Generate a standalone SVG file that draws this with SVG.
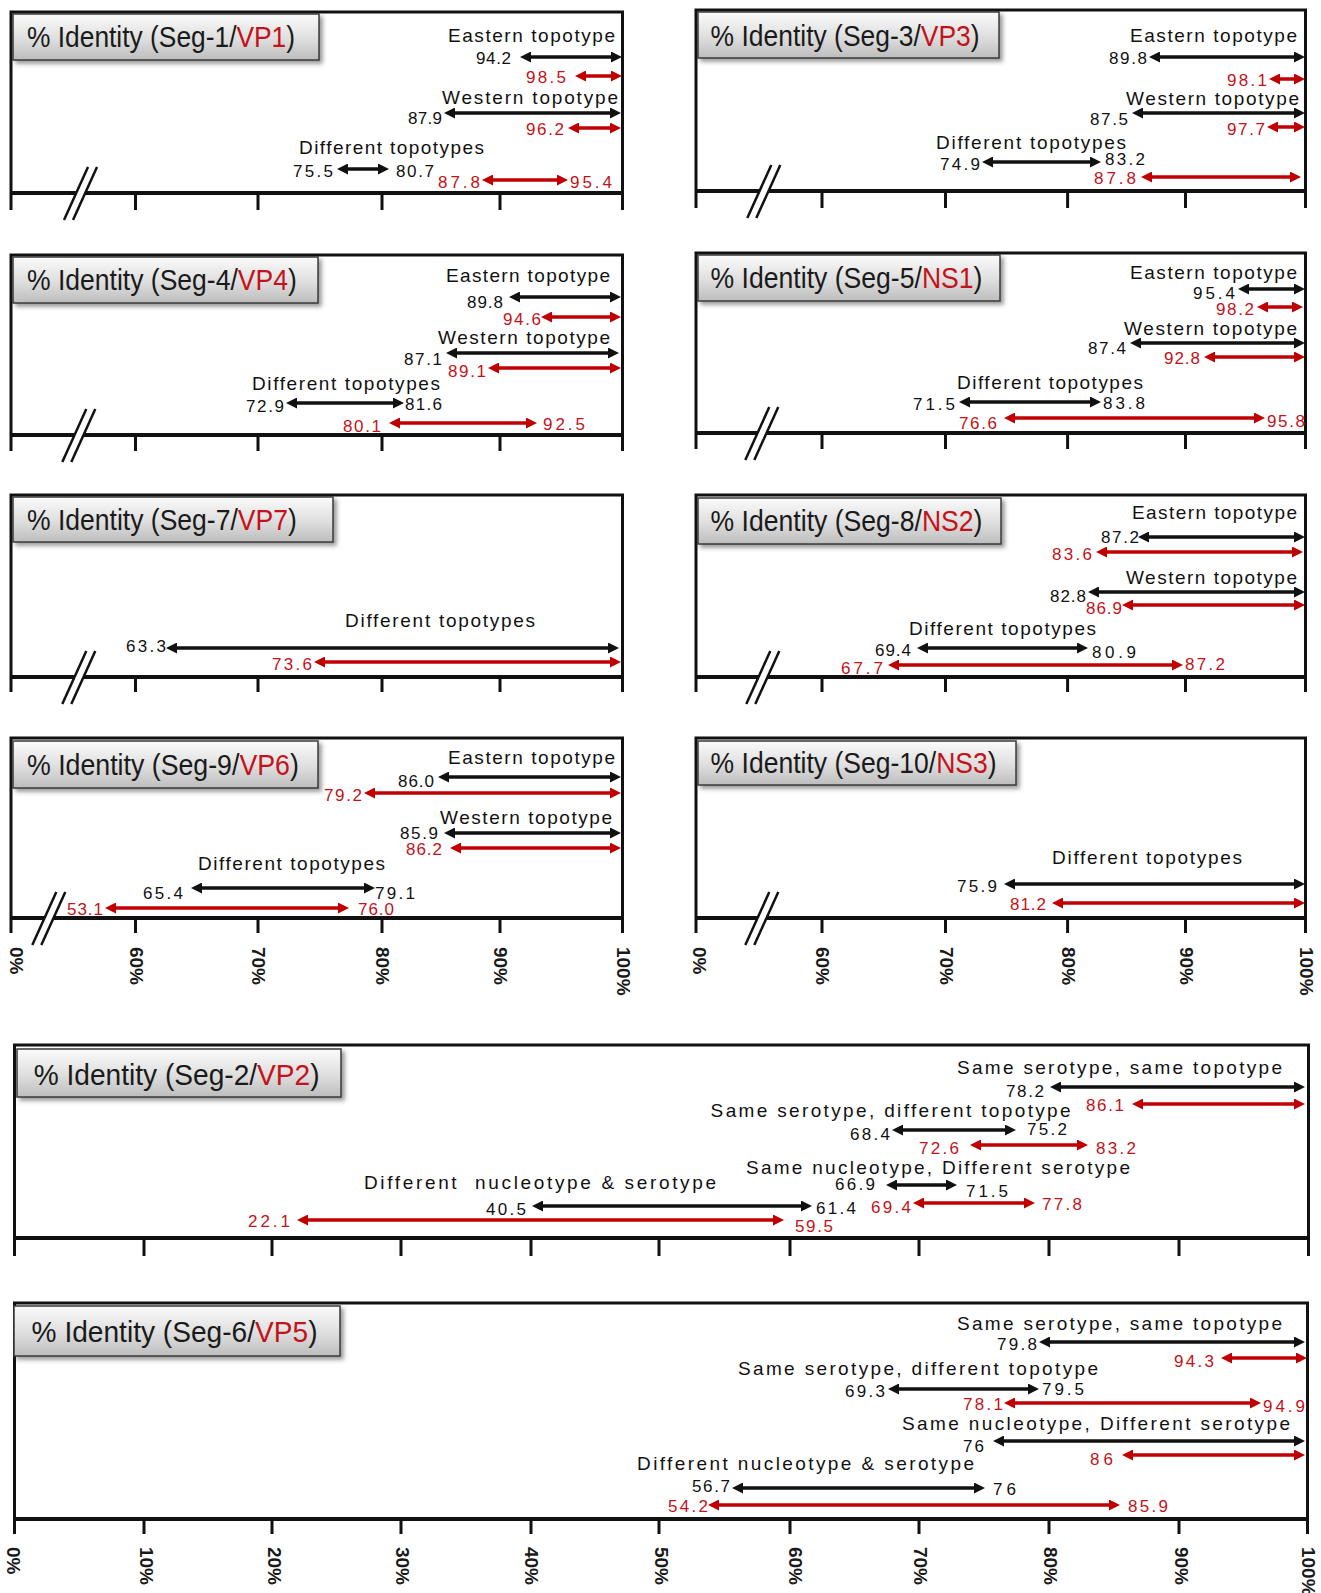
<svg xmlns="http://www.w3.org/2000/svg" xmlns:xlink="http://www.w3.org/1999/xlink" width="1321" height="1593" viewBox="0 0 1321 1593">
  <defs>
    <style>
      .fr{fill:none;stroke:#111;stroke-width:3;stroke-linejoin:miter}
      .ax{fill:none;stroke:#111;stroke-width:4}
      .tk{fill:none;stroke:#111;stroke-width:3}
      .tb{fill:url(#tbg);stroke:#3a3a3a;stroke-width:1.5;filter:url(#sh)}
      .tt{font-family:"Liberation Sans",Arial,sans-serif;font-size:29px;fill:#1a1a1a}
      .rd{fill:#c4121a}
      .lb{font-family:"Liberation Sans",Arial,sans-serif;font-size:19px;fill:#111}
      .n{font-family:"Liberation Sans",Arial,sans-serif;font-size:17px;fill:#111}
      .rn{fill:#c4121a}
      .ka{stroke:#111;stroke-width:3.5;marker-start:url(#hk);marker-end:url(#hk)}
      .ra{stroke:#c00000;stroke-width:3.5;marker-start:url(#hr);marker-end:url(#hr)}
      .pl{font-family:"Liberation Sans",Arial,sans-serif;font-size:19px;font-weight:bold;fill:#1a1a1a}
      .bk{stroke:#111;stroke-width:2.5}
    </style>
    <linearGradient id="tbg" x1="0" y1="0" x2="0" y2="1">
      <stop offset="0" stop-color="#fbfbfb"/>
      <stop offset="0.55" stop-color="#dedede"/>
      <stop offset="1" stop-color="#bdbdbd"/>
    </linearGradient>
    <filter id="sh" x="-5%" y="-10%" width="115%" height="140%">
      <feDropShadow dx="3" dy="3" stdDeviation="2" flood-color="#444" flood-opacity="0.55"/>
    </filter>
    <marker id="hk" viewBox="0 0 11 11" refX="7" refY="5.5" markerWidth="11" markerHeight="11" markerUnits="userSpaceOnUse" orient="auto-start-reverse">
      <path d="M0,0 L11,5.5 L0,11 z" fill="#111"/>
    </marker>
    <marker id="hr" viewBox="0 0 11 11" refX="7" refY="5.5" markerWidth="11" markerHeight="11" markerUnits="userSpaceOnUse" orient="auto-start-reverse">
      <path d="M0,0 L11,5.5 L0,11 z" fill="#c00000"/>
    </marker>
    <!-- axis break mark, centred on the axis line -->
    <g id="brk">
      <polygon points="-2.2,-5 6.8,-5 2.2,5 -6.8,5" fill="#fff"/>
      <line class="bk" x1="-16.7" y1="27" x2="7.3" y2="-26"/>
      <line class="bk" x1="-7.7" y1="27" x2="16.3" y2="-26"/>
    </g>
  </defs>

  <rect width="1321" height="1593" fill="#fff"/>

  <!-- Segment 1 / VP1 -->
  <g id="seg1">
    <path class="fr" d="M11,193 V12 H622.5 V193"/>
    <path class="ax" d="M11,193 H622.5"/>
    <path class="tk" d="M11,193V210 M135.5,193V210 M258,193V210 M382,193V210 M500,193V210 M622.5,193V210"/>
    <use href="#brk" x="80.7" y="193"/>
    <rect class="tb" x="13" y="14" width="306" height="46"/>
    <text class="tt" transform="translate(27 46.5) scale(0.909 1)">% Identity (Seg-1/<tspan class="rd">VP1</tspan>)</text>
    <text class="lb" x="448" y="41.5" textLength="167">Eastern topotype</text>
    <text class="n" x="476" y="64" textLength="35">94.2</text>
    <text class="n rn" x="526" y="82.5" textLength="40">98.5</text>
    <text class="lb" x="442" y="103.5" textLength="176">Western topotype</text>
    <text class="n" x="408" y="123.5" textLength="34">87.9</text>
    <text class="n rn" x="526" y="134.5" textLength="38">96.2</text>
    <text class="lb" x="299" y="153.5" textLength="185">Different topotypes</text>
    <text class="n" x="293" y="176.5" textLength="40">75.5</text>
    <text class="n" x="396" y="176.5" textLength="38">80.7</text>
    <text class="n rn" x="438" y="187.5" textLength="42">87.8</text>
    <text class="n rn" x="570" y="187.5" textLength="42">95.4</text>
    <g class="ranges">
      <line class="ka" x1="524" y1="57" x2="618" y2="57"/>
      <line class="ra" x1="579" y1="76" x2="618" y2="76"/>
      <line class="ka" x1="448" y1="113" x2="617" y2="113"/>
      <line class="ra" x1="572" y1="128" x2="617" y2="128"/>
      <line class="ka" x1="341" y1="169" x2="385" y2="169"/>
      <line class="ra" x1="486" y1="180" x2="564" y2="180"/>
    </g>
  </g>

  <!-- Segment 3 / VP3 -->
  <g id="seg3">
    <path class="fr" d="M696,191 V10 H1305.5 V191"/>
    <path class="ax" d="M696,191 H1305.5"/>
    <path class="tk" d="M696,191V208 M822,191V208 M945.5,191V208 M1067.6,191V208 M1185.5,191V208 M1305.5,191V208"/>
    <use href="#brk" x="764" y="191"/>
    <rect class="tb" x="698" y="12" width="301" height="46"/>
    <text class="tt" transform="translate(710.6 46) scale(0.912 1)">% Identity (Seg-3/<tspan class="rd">VP3</tspan>)</text>
    <text class="lb" x="1130" y="41.5" textLength="167">Eastern topotype</text>
    <text class="n" x="1109" y="64" textLength="38">89.8</text>
    <text class="n rn" x="1227" y="85.5" textLength="40">98.1</text>
    <text class="lb" x="1126" y="104.5" textLength="173">Western topotype</text>
    <text class="n" x="1090" y="124.5" textLength="38">87.5</text>
    <text class="n rn" x="1227" y="134.5" textLength="38">97.7</text>
    <text class="lb" x="936" y="149" textLength="190">Different topotypes</text>
    <text class="n" x="940" y="169.5" textLength="40">74.9</text>
    <text class="n" x="1105" y="165" textLength="40">83.2</text>
    <text class="n rn" x="1094" y="183.5" textLength="42">87.8</text>
    <g class="ranges">
      <line class="ka" x1="1153" y1="57" x2="1301" y2="57"/>
      <line class="ra" x1="1273" y1="79" x2="1301" y2="79"/>
      <line class="ka" x1="1136" y1="113" x2="1301" y2="113"/>
      <line class="ra" x1="1271" y1="127" x2="1301" y2="127"/>
      <line class="ka" x1="986" y1="162" x2="1097" y2="162"/>
      <line class="ra" x1="1145" y1="177" x2="1297" y2="177"/>
    </g>
  </g>

  <!-- Segment 4 / VP4 -->
  <g id="seg4">
    <path class="fr" d="M11,435 V255 H622.5 V435"/>
    <path class="ax" d="M11,435 H622.5"/>
    <path class="tk" d="M11,435V451 M135.5,435V451 M258,435V451 M382,435V451 M500,435V451 M622.5,435V451"/>
    <use href="#brk" x="79" y="435"/>
    <rect class="tb" x="13" y="257" width="305" height="46"/>
    <text class="tt" transform="translate(27 290) scale(0.915 1)">% Identity (Seg-4/<tspan class="rd">VP4</tspan>)</text>
    <text class="lb" x="446" y="281.5" textLength="164">Eastern topotype</text>
    <text class="n" x="467" y="307.5" textLength="36">89.8</text>
    <text class="n rn" x="503" y="324.5" textLength="38">94.6</text>
    <text class="lb" x="438" y="343.5" textLength="172">Western topotype</text>
    <text class="n" x="404" y="364.5" textLength="38">87.1</text>
    <text class="n rn" x="448" y="376.5" textLength="38">89.1</text>
    <text class="lb" x="252" y="389.5" textLength="188">Different topotypes</text>
    <text class="n" x="246" y="411.5" textLength="38">72.9</text>
    <text class="n" x="405" y="409.5" textLength="37">81.6</text>
    <text class="n rn" x="343" y="431.5" textLength="38">80.1</text>
    <text class="n rn" x="543" y="429.5" textLength="42">92.5</text>
    <g class="ranges">
      <line class="ka" x1="513" y1="297" x2="617" y2="297"/>
      <line class="ra" x1="545" y1="317" x2="617" y2="317"/>
      <line class="ka" x1="450" y1="353" x2="615" y2="353"/>
      <line class="ra" x1="492" y1="368" x2="617" y2="368"/>
      <line class="ka" x1="290" y1="403" x2="400" y2="403"/>
      <line class="ra" x1="393" y1="423" x2="533" y2="423"/>
    </g>
  </g>

  <!-- Segment 5 / NS1 -->
  <g id="seg5">
    <path class="fr" d="M696,433 V253 H1305.5 V433"/>
    <path class="ax" d="M696,433 H1305.5"/>
    <path class="tk" d="M696,433V449 M822,433V449 M945.5,433V449 M1067.6,433V449 M1185.5,433V449 M1305.5,433V449"/>
    <use href="#brk" x="762" y="433"/>
    <rect class="tb" x="698" y="255" width="302" height="46"/>
    <text class="tt" transform="translate(710.6 288) scale(0.917 1)">% Identity (Seg-5/<tspan class="rd">NS1</tspan>)</text>
    <text class="lb" x="1130" y="278.5" textLength="167">Eastern topotype</text>
    <text class="n" x="1193" y="298.5" textLength="42">95.4</text>
    <text class="n rn" x="1216" y="314.5" textLength="38">98.2</text>
    <text class="lb" x="1124" y="334.5" textLength="173">Western topotype</text>
    <text class="n" x="1088" y="353.5" textLength="38">87.4</text>
    <text class="n rn" x="1164" y="363.5" textLength="36">92.8</text>
    <text class="lb" x="957" y="388.5" textLength="186">Different topotypes</text>
    <text class="n" x="913" y="409.5" textLength="42">71.5</text>
    <text class="n" x="1103" y="408.5" textLength="42">83.8</text>
    <text class="n rn" x="959" y="428.5" textLength="38">76.6</text>
    <text class="n rn" x="1267" y="426.5" textLength="38">95.8</text>
    <g class="ranges">
      <line class="ka" x1="1242" y1="289" x2="1301" y2="289"/>
      <line class="ra" x1="1261" y1="307" x2="1299" y2="307"/>
      <line class="ka" x1="1134" y1="343" x2="1301" y2="343"/>
      <line class="ra" x1="1208" y1="357" x2="1301" y2="357"/>
      <line class="ka" x1="963" y1="402" x2="1097" y2="402"/>
      <line class="ra" x1="1008" y1="418" x2="1261" y2="418"/>
    </g>
  </g>

  <!-- Segment 7 / VP7 -->
  <g id="seg7">
    <path class="fr" d="M11,677 V495 H622.5 V677"/>
    <path class="ax" d="M11,677 H622.5"/>
    <path class="tk" d="M11,677V692 M135.5,677V692 M258,677V692 M382,677V692 M500,677V692 M622.5,677V692"/>
    <use href="#brk" x="79" y="677"/>
    <rect class="tb" x="13" y="497" width="320" height="45"/>
    <text class="tt" transform="translate(27 529.5) scale(0.915 1)">% Identity (Seg-7/<tspan class="rd">VP7</tspan>)</text>
    <text class="lb" x="345" y="626.5" textLength="190">Different topotypes</text>
    <text class="n" x="126" y="651.5" textLength="40">63.3</text>
    <text class="n rn" x="272" y="669.5" textLength="40">73.6</text>
    <g class="ranges">
      <line class="ka" x1="170" y1="648" x2="615" y2="648"/>
      <line class="ra" x1="318" y1="662" x2="617" y2="662"/>
    </g>
  </g>

  <!-- Segment 8 / NS2 -->
  <g id="seg8">
    <path class="fr" d="M696,677 V495 H1305.5 V677"/>
    <path class="ax" d="M696,677 H1305.5"/>
    <path class="tk" d="M696,677V692 M822,677V692 M945.5,677V692 M1067.6,677V692 M1185.5,677V692 M1305.5,677V692"/>
    <use href="#brk" x="763" y="677"/>
    <rect class="tb" x="698" y="498" width="303" height="46"/>
    <text class="tt" transform="translate(710.6 531) scale(0.917 1)">% Identity (Seg-8/<tspan class="rd">NS2</tspan>)</text>
    <text class="lb" x="1132" y="518.5" textLength="165">Eastern topotype</text>
    <text class="n" x="1101" y="542.5" textLength="38">87.2</text>
    <text class="n rn" x="1052" y="559.5" textLength="40">83.6</text>
    <text class="lb" x="1126" y="583.5" textLength="171">Western topotype</text>
    <text class="n" x="1050" y="601.5" textLength="36">82.8</text>
    <text class="n rn" x="1086" y="613.5" textLength="36">86.9</text>
    <text class="lb" x="909" y="634.5" textLength="187">Different topotypes</text>
    <text class="n" x="875" y="655.5" textLength="36">69.4</text>
    <text class="n" x="1092" y="657.5" textLength="44">80.9</text>
    <text class="n rn" x="841" y="673.5" textLength="42">67.7</text>
    <text class="n rn" x="1185" y="669.5" textLength="40">87.2</text>
    <g class="ranges">
      <line class="ka" x1="1142" y1="537" x2="1301" y2="537"/>
      <line class="ra" x1="1100" y1="552" x2="1299" y2="552"/>
      <line class="ka" x1="1092" y1="592" x2="1301" y2="592"/>
      <line class="ra" x1="1126" y1="605" x2="1301" y2="605"/>
      <line class="ka" x1="921" y1="648" x2="1084" y2="648"/>
      <line class="ra" x1="892" y1="665" x2="1179" y2="665"/>
    </g>
  </g>

  <!-- Segment 9 / VP6 -->
  <g id="seg9">
    <path class="fr" d="M11,918 V738 H622.5 V918"/>
    <path class="ax" d="M11,918 H622.5"/>
    <path class="tk" d="M11,918V933 M135.5,918V933 M258,918V933 M382,918V933 M500,918V933 M622.5,918V933"/>
    <use href="#brk" x="49" y="918"/>
    <rect class="tb" x="13" y="741" width="305" height="47"/>
    <text class="tt" transform="translate(27 775) scale(0.922 1)">% Identity (Seg-9/<tspan class="rd">VP6</tspan>)</text>
    <text class="lb" x="448" y="763.5" textLength="167">Eastern topotype</text>
    <text class="n" x="398" y="786.5" textLength="36">86.0</text>
    <text class="n rn" x="324" y="800.5" textLength="38">79.2</text>
    <text class="lb" x="440" y="823.5" textLength="172">Western topotype</text>
    <text class="n" x="400" y="838.5" textLength="38">85.9</text>
    <text class="n rn" x="406" y="854.5" textLength="36">86.2</text>
    <text class="lb" x="198" y="869.5" textLength="187">Different topotypes</text>
    <text class="n" x="143" y="898.5" textLength="40">65.4</text>
    <text class="n" x="375" y="898.5" textLength="40">79.1</text>
    <text class="n rn" x="67" y="914.5" textLength="36">53.1</text>
    <text class="n rn" x="358" y="914.5" textLength="36">76.0</text>
    <g class="ranges">
      <line class="ka" x1="442" y1="777" x2="617" y2="777"/>
      <line class="ra" x1="368" y1="793" x2="617" y2="793"/>
      <line class="ka" x1="448" y1="833" x2="617" y2="833"/>
      <line class="ra" x1="454" y1="848" x2="617" y2="848"/>
      <line class="ka" x1="195" y1="888" x2="371" y2="888"/>
      <line class="ra" x1="109" y1="908" x2="345" y2="908"/>
    </g>
    <g class="scale">
      <text class="pl" x="10.2" y="947" transform="rotate(90 10.2 947)">0%</text>
      <text class="pl" x="129.7" y="947" transform="rotate(90 129.7 947)">60%</text>
      <text class="pl" x="252.2" y="947" transform="rotate(90 252.2 947)">70%</text>
      <text class="pl" x="376.2" y="947" transform="rotate(90 376.2 947)">80%</text>
      <text class="pl" x="494.2" y="947" transform="rotate(90 494.2 947)">90%</text>
      <text class="pl" x="617.2" y="947" transform="rotate(90 617.2 947)">100%</text>
    </g>
  </g>

  <!-- Segment 10 / NS3 -->
  <g id="seg10">
    <path class="fr" d="M696,918 V738 H1305.5 V918"/>
    <path class="ax" d="M696,918 H1305.5"/>
    <path class="tk" d="M696,918V933 M822,918V933 M945.5,918V933 M1067.6,918V933 M1185.5,918V933 M1305.5,918V933"/>
    <use href="#brk" x="762" y="918"/>
    <rect class="tb" x="698" y="741" width="318" height="44"/>
    <text class="tt" transform="translate(710.6 773) scale(0.915 1)">% Identity (Seg-10/<tspan class="rd">NS3</tspan>)</text>
    <text class="lb" x="1052" y="863.5" textLength="190">Different topotypes</text>
    <text class="n" x="957" y="891.5" textLength="40">75.9</text>
    <text class="n rn" x="1010" y="909.5" textLength="36">81.2</text>
    <g class="ranges">
      <line class="ka" x1="1008" y1="884" x2="1301" y2="884"/>
      <line class="ra" x1="1056" y1="903" x2="1301" y2="903"/>
    </g>
    <g class="scale">
      <text class="pl" x="693.2" y="947" transform="rotate(90 693.2 947)">0%</text>
      <text class="pl" x="816.2" y="947" transform="rotate(90 816.2 947)">60%</text>
      <text class="pl" x="939.7" y="947" transform="rotate(90 939.7 947)">70%</text>
      <text class="pl" x="1061.8" y="947" transform="rotate(90 1061.8 947)">80%</text>
      <text class="pl" x="1179.7" y="947" transform="rotate(90 1179.7 947)">90%</text>
      <text class="pl" x="1300.2" y="947" transform="rotate(90 1300.2 947)">100%</text>
    </g>
  </g>

  <!-- Segment 2 / VP2 -->
  <g id="seg2">
    <path class="fr" d="M14.5,1238 V1045 H1308.5 V1238"/>
    <path class="ax" d="M14.5,1238 H1308.5"/>
    <path class="tk" d="M14.5,1238V1256 M144,1238V1256 M272,1238V1256 M401,1238V1256 M531,1238V1256 M659,1238V1256 M790,1238V1256 M919,1238V1256 M1049,1238V1256 M1179,1238V1256 M1308.5,1238V1256"/>
    <rect class="tb" x="17" y="1049" width="324" height="48"/>
    <text class="tt" transform="translate(33.7 1084.5) scale(0.97 1)">% Identity (Seg-2/<tspan class="rd">VP2</tspan>)</text>
    <text class="lb" x="957" y="1073.5" textLength="325">Same serotype, same topotype</text>
    <text class="n" x="1006" y="1096.5" textLength="38">78.2</text>
    <text class="n rn" x="1086" y="1110.5" textLength="38">86.1</text>
    <text class="lb" x="710.6" y="1116.5" textLength="360">Same serotype, different topotype</text>
    <text class="n" x="850" y="1139.5" textLength="40">68.4</text>
    <text class="n" x="1027" y="1134.5" textLength="40">75.2</text>
    <text class="n rn" x="919" y="1153.5" textLength="40">72.6</text>
    <text class="n rn" x="1096" y="1153.5" textLength="40">83.2</text>
    <text class="lb" x="746" y="1173.5" textLength="384">Same nucleotype, Different serotype</text>
    <text class="n" x="835" y="1189.5" textLength="40">66.9</text>
    <text class="n" x="966" y="1196.5" textLength="42">71.5</text>
    <text class="n rn" x="871" y="1212.5" textLength="40">69.4</text>
    <text class="n rn" x="1042" y="1209.5" textLength="40">77.8</text>
    <text class="lb" x="364" y="1188.5" textLength="352" xml:space="preserve">Different  nucleotype &amp; serotype</text>
    <text class="n" x="486" y="1214.5" textLength="40">40.5</text>
    <text class="n" x="816" y="1213.5" textLength="40">61.4</text>
    <text class="n rn" x="248" y="1226.5" textLength="42">22.1</text>
    <text class="n rn" x="795" y="1231.5" textLength="38">59.5</text>
    <g class="ranges">
      <line class="ka" x1="1054" y1="1087" x2="1301" y2="1087"/>
      <line class="ra" x1="1136" y1="1104" x2="1301" y2="1104"/>
      <line class="ka" x1="896" y1="1130" x2="1012" y2="1130"/>
      <line class="ra" x1="974" y1="1145" x2="1084" y2="1145"/>
      <line class="ka" x1="890" y1="1185" x2="953" y2="1185"/>
      <line class="ra" x1="917" y1="1203" x2="1031" y2="1203"/>
      <line class="ka" x1="536" y1="1206" x2="808" y2="1206"/>
      <line class="ra" x1="301" y1="1220" x2="780" y2="1220"/>
    </g>
  </g>

  <!-- Segment 6 / VP5 -->
  <g id="seg6">
    <path class="fr" d="M14.5,1519 V1303 H1307.5 V1519"/>
    <path class="ax" d="M14.5,1519 H1307.5"/>
    <path class="tk" d="M14.5,1519V1534 M144,1519V1534 M272,1519V1534 M401,1519V1534 M531,1519V1534 M659,1519V1534 M790,1519V1534 M919,1519V1534 M1049,1519V1534 M1179,1519V1534 M1307.5,1519V1534"/>
    <rect class="tb" x="14" y="1306" width="326" height="50"/>
    <text class="tt" transform="translate(31.6 1341.5) scale(0.97 1)">% Identity (Seg-6/<tspan class="rd">VP5</tspan>)</text>
    <text class="lb" x="957" y="1329.5" textLength="325">Same serotype, same topotype</text>
    <text class="n" x="997" y="1349.5" textLength="40">79.8</text>
    <text class="n rn" x="1174" y="1366.5" textLength="40">94.3</text>
    <text class="lb" x="738" y="1374.5" textLength="360">Same serotype, different topotype</text>
    <text class="n" x="845" y="1396.5" textLength="40">69.3</text>
    <text class="n" x="1042" y="1394.5" textLength="42">79.5</text>
    <text class="n rn" x="963" y="1409.5" textLength="40">78.1</text>
    <text class="n rn" x="1263" y="1411.5" textLength="42">94.9</text>
    <text class="lb" x="902" y="1429.5" textLength="388">Same nucleotype, Different serotype</text>
    <text class="n" x="963" y="1451.5" textLength="21">76</text>
    <text class="n rn" x="1090" y="1464.5" textLength="23">86</text>
    <text class="lb" x="637" y="1469.5" textLength="337">Different nucleotype &amp; serotype</text>
    <text class="n" x="692" y="1491.5" textLength="38">56.7</text>
    <text class="n" x="993" y="1494.5" textLength="23">76</text>
    <text class="n rn" x="668" y="1511.5" textLength="40">54.2</text>
    <text class="n rn" x="1128" y="1511.5" textLength="40">85.9</text>
    <g class="ranges">
      <line class="ka" x1="1043" y1="1342" x2="1301" y2="1342"/>
      <line class="ra" x1="1225" y1="1358" x2="1303" y2="1358"/>
      <line class="ka" x1="892" y1="1389" x2="1035" y2="1389"/>
      <line class="ra" x1="1008" y1="1403" x2="1257" y2="1403"/>
      <line class="ka" x1="997" y1="1441" x2="1301" y2="1441"/>
      <line class="ra" x1="1126" y1="1455" x2="1301" y2="1455"/>
      <line class="ka" x1="736" y1="1488" x2="981" y2="1488"/>
      <line class="ra" x1="712" y1="1505" x2="1116" y2="1505"/>
    </g>
    <g class="scale">
      <text class="pl" x="7.2" y="1547" transform="rotate(90 7.2 1547)">0%</text>
      <text class="pl" x="140.2" y="1547" transform="rotate(90 140.2 1547)">10%</text>
      <text class="pl" x="268.2" y="1547" transform="rotate(90 268.2 1547)">20%</text>
      <text class="pl" x="396.2" y="1547" transform="rotate(90 396.2 1547)">30%</text>
      <text class="pl" x="525.2" y="1547" transform="rotate(90 525.2 1547)">40%</text>
      <text class="pl" x="655.2" y="1547" transform="rotate(90 655.2 1547)">50%</text>
      <text class="pl" x="789.2" y="1547" transform="rotate(90 789.2 1547)">60%</text>
      <text class="pl" x="914.2" y="1547" transform="rotate(90 914.2 1547)">70%</text>
      <text class="pl" x="1044.2" y="1547" transform="rotate(90 1044.2 1547)">80%</text>
      <text class="pl" x="1175.2" y="1547" transform="rotate(90 1175.2 1547)">90%</text>
      <text class="pl" x="1302.2" y="1547" transform="rotate(90 1302.2 1547)">100%</text>
    </g>
  </g>
</svg>
